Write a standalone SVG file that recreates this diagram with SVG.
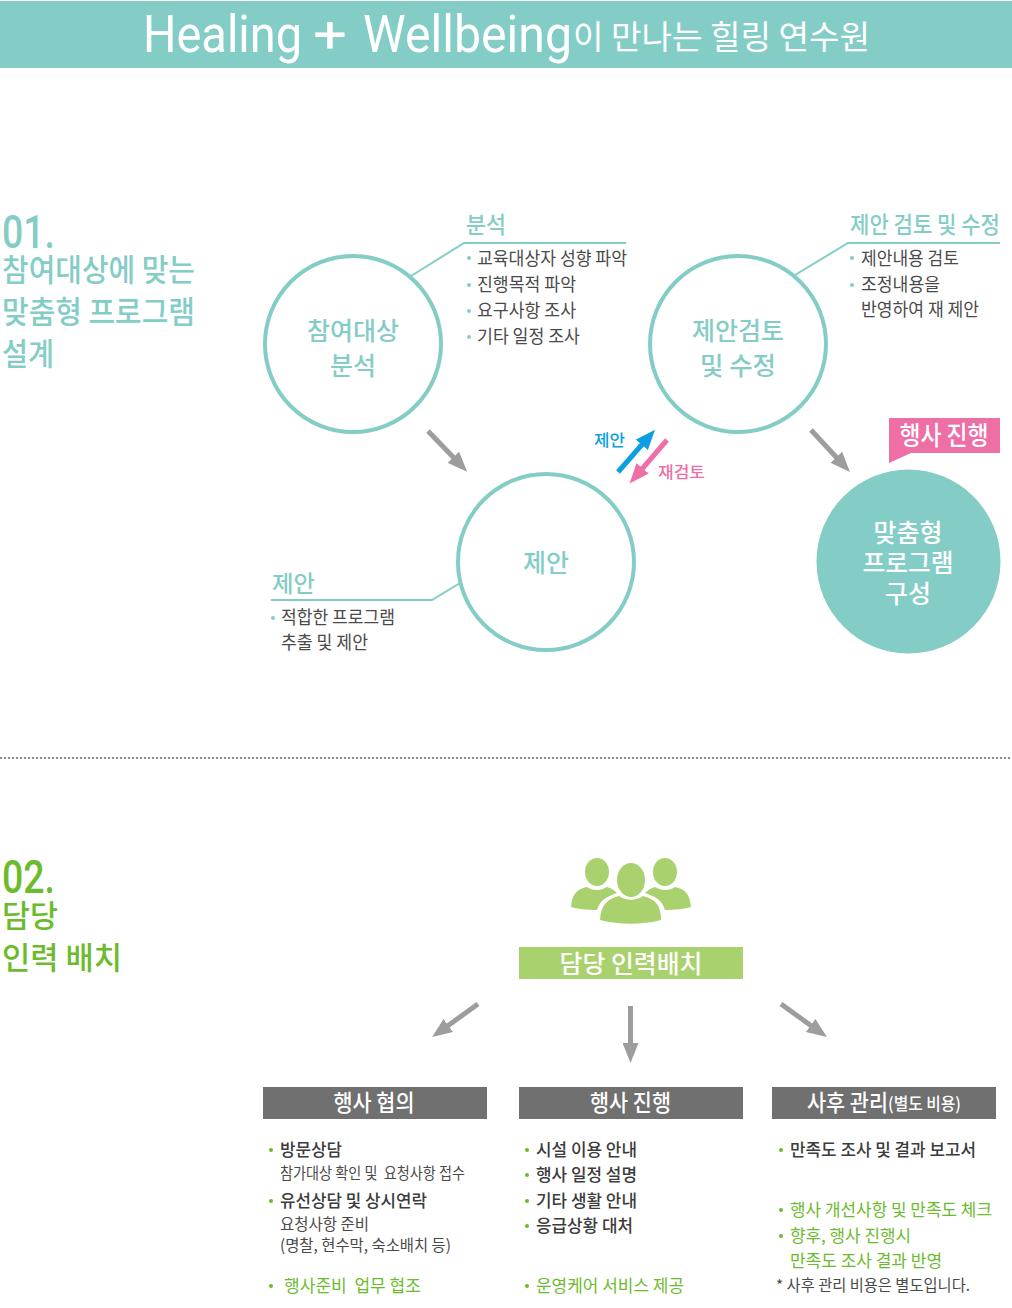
<svg xmlns="http://www.w3.org/2000/svg" width="1012" height="1308" viewBox="0 0 1012 1308">
<style>
text{font-family:"Noto Sans CJK KR","Noto Sans",sans-serif;letter-spacing:0}
.teal{fill:#84cdc7}.wht{fill:#fff}.dark{fill:#4a4a4a}.grn{fill:#6cbb2e}.blk{fill:#3c3c3c;font-weight:500}
.ring{fill:#fff;stroke:#84cdc7;stroke-width:4}
.lead{fill:none;stroke:#84cdc7;stroke-width:2}
.arr{stroke:#9d9d9d;stroke-width:5;fill:none}
.dot{fill:#84cdc7}.gdot{fill:#6cbb2e}
.ctr{text-anchor:middle}
.m{font-weight:500}
.latin{font-family:"Roboto",sans-serif}
</style>
<defs>
<marker id="ag" markerUnits="userSpaceOnUse" markerWidth="22" markerHeight="16" refX="1" refY="8" orient="auto"><path d="M0 0L20 8L0 16Z" fill="#9d9d9d"/></marker>
<marker id="ab" markerUnits="userSpaceOnUse" markerWidth="22" markerHeight="16" refX="1" refY="8" orient="auto"><path d="M0 0L20 8L0 16Z" fill="#0c9fe4"/></marker>
<marker id="ap" markerUnits="userSpaceOnUse" markerWidth="22" markerHeight="16" refX="1" refY="8" orient="auto"><path d="M0 0L20 8L0 16Z" fill="#ee6fa6"/></marker>
</defs>

<g id="header">
<rect x="0" y="1" width="1012" height="67" fill="#84cdc7"/>
<text x="143" y="52" class="wht latin" font-size="52" textLength="159" lengthAdjust="spacingAndGlyphs">Healing</text>
<text x="313" y="52" class="wht latin" font-size="52" textLength="34" lengthAdjust="spacingAndGlyphs">+</text>
<text x="363" y="52" class="wht latin" font-size="52" textLength="209" lengthAdjust="spacingAndGlyphs">Wellbeing</text>
<text x="573" y="49" class="wht" font-size="33" textLength="297" lengthAdjust="spacingAndGlyphs">이 만나는 힐링 연수원</text>
</g>

<g id="section-01-title">
<text x="2" y="248" class="teal latin" font-size="46" font-weight="500" textLength="53" lengthAdjust="spacingAndGlyphs">01.</text>
<text x="2" y="281" class="teal m" font-size="31" textLength="193" lengthAdjust="spacingAndGlyphs">참여대상에 맞는</text>
<text x="2" y="323" class="teal m" font-size="31" textLength="193" lengthAdjust="spacingAndGlyphs">맞춤형 프로그램</text>
<text x="2" y="365" class="teal m" font-size="31" textLength="52" lengthAdjust="spacingAndGlyphs">설계</text>
</g>

<g id="connectors">
<path class="lead" d="M411 276L464 243H626"/>
<path class="lead" d="M795 275L848 243H1000"/>
<path class="lead" d="M271 600H432L460 583"/>
<path class="arr" marker-end="url(#ag)" d="M428 431L454 458"/>
<path class="arr" marker-end="url(#ag)" d="M811 430L837 458"/>
<path d="M618 472L642.500 444" stroke="#0c9fe4" stroke-width="5" fill="none" marker-end="url(#ab)"/>
<path d="M667 440L642 469" stroke="#ee6fa6" stroke-width="5" fill="none" marker-end="url(#ap)"/>
<path class="arr" marker-end="url(#ag)" d="M478 1004L447.500 1026"/>
<path class="arr" marker-end="url(#ag)" d="M630.500 1006V1044"/>
<path class="arr" marker-end="url(#ag)" d="M781 1004L811.500 1026"/>
</g>

<g id="node-analysis">
<circle class="ring" cx="353" cy="344" r="88"/>
<text x="353" y="340" class="teal ctr m" font-size="25" textLength="92" lengthAdjust="spacingAndGlyphs">참여대상</text>
<text x="353" y="375" class="teal ctr m" font-size="25" textLength="46" lengthAdjust="spacingAndGlyphs">분석</text>
</g>
<g id="note-analysis">
<text x="466" y="233" class="teal m" font-size="23" textLength="40" lengthAdjust="spacingAndGlyphs">분석</text>
<circle class="dot" cx="469" cy="258" r="2"/><text x="477" y="265" class="dark" font-size="18" textLength="150" lengthAdjust="spacingAndGlyphs">교육대상자 성향 파악</text>
<circle class="dot" cx="469" cy="285" r="2"/><text x="477" y="291" class="dark" font-size="18" textLength="99" lengthAdjust="spacingAndGlyphs">진행목적 파악</text>
<circle class="dot" cx="469" cy="311" r="2"/><text x="477" y="317" class="dark" font-size="18" textLength="99" lengthAdjust="spacingAndGlyphs">요구사항 조사</text>
<circle class="dot" cx="469" cy="337" r="2"/><text x="477" y="343" class="dark" font-size="18" textLength="103" lengthAdjust="spacingAndGlyphs">기타 일정 조사</text>
</g>

<g id="node-review">
<circle class="ring" cx="738" cy="344" r="88"/>
<text x="738" y="340" class="teal ctr m" font-size="25" textLength="92" lengthAdjust="spacingAndGlyphs">제안검토</text>
<text x="738" y="375" class="teal ctr m" font-size="25" textLength="76" lengthAdjust="spacingAndGlyphs">및 수정</text>
</g>
<g id="note-review">
<text x="850" y="233" class="teal m" font-size="23" textLength="150" lengthAdjust="spacingAndGlyphs">제안 검토 및 수정</text>
<circle class="dot" cx="852" cy="258" r="2"/><text x="861" y="265" class="dark" font-size="18" textLength="98" lengthAdjust="spacingAndGlyphs">제안내용 검토</text>
<circle class="dot" cx="852" cy="285" r="2"/><text x="861" y="291" class="dark" font-size="18" textLength="79" lengthAdjust="spacingAndGlyphs">조정내용을</text>
<text x="861" y="316" class="dark" font-size="18" textLength="118" lengthAdjust="spacingAndGlyphs">반영하여 재 제안</text>
</g>

<g id="node-proposal">
<circle class="ring" cx="546" cy="562" r="88"/>
<text x="546" y="572" class="teal ctr m" font-size="25" textLength="46" lengthAdjust="spacingAndGlyphs">제안</text>
</g>
<g id="note-proposal">
<text x="272" y="592" class="teal m" font-size="23" textLength="43" lengthAdjust="spacingAndGlyphs">제안</text>
<circle class="dot" cx="273" cy="618" r="2"/><text x="281" y="624" class="dark" font-size="18" textLength="114" lengthAdjust="spacingAndGlyphs">적합한 프로그램</text>
<text x="281" y="649" class="dark" font-size="18" textLength="87" lengthAdjust="spacingAndGlyphs">추출 및 제안</text>
</g>

<g id="label-propose"><text x="594" y="446" font-size="16" font-weight="500" fill="#0c9fe4" textLength="31" lengthAdjust="spacingAndGlyphs">제안</text></g>
<g id="label-recheck"><text x="658" y="478" font-size="16" font-weight="500" fill="#ee6fa6" textLength="47" lengthAdjust="spacingAndGlyphs">재검토</text></g>

<g id="callout-event">
<path d="M889 418H1000V453H911L889 463Z" fill="#ee6fa6"/>
<text x="944" y="445" class="wht ctr m" font-size="26" textLength="89" lengthAdjust="spacingAndGlyphs">행사 진행</text>
</g>
<g id="node-program">
<circle cx="908.500" cy="561.500" r="92" fill="#84cdc7"/>
<text x="908" y="542" class="wht ctr m" font-size="25" textLength="69" lengthAdjust="spacingAndGlyphs">맞춤형</text>
<text x="908" y="572" class="wht ctr m" font-size="25" textLength="91" lengthAdjust="spacingAndGlyphs">프로그램</text>
<text x="908" y="603" class="wht ctr m" font-size="25" textLength="46" lengthAdjust="spacingAndGlyphs">구성</text>
</g>

<path id="divider" d="M0 758H1012" stroke="#8a8a8a" stroke-width="2" stroke-dasharray="2 2"/>

<g id="section-02-title">
<text x="2" y="893" class="grn latin" font-size="46" font-weight="500" textLength="53" lengthAdjust="spacingAndGlyphs">02.</text>
<text x="2" y="927" class="grn m" font-size="31" textLength="56" lengthAdjust="spacingAndGlyphs">담당</text>
<text x="2" y="969" class="grn m" font-size="31" textLength="120" lengthAdjust="spacingAndGlyphs">인력 배치</text>
</g>

<g id="people-icon" fill="#a9d26e">
<ellipse cx="597" cy="872" rx="12" ry="14"/>
<ellipse cx="665" cy="872" rx="12" ry="14"/>
<path d="M571 907C572 893 578 889 587 887C592 891 601 891 607 887C611 888 614 890 617 893C606 897 600 900 597 910C586 910 578 909 571 907Z"/>
<path d="M691 907C690 893 684 889 675 887C670 891 661 891 655 887C651 888 648 890 645 893C656 897 662 900 665 910C676 910 684 909 691 907Z"/>
<ellipse cx="631" cy="880" rx="14" ry="17"/>
<path d="M600 920C601 905 607 899 619 896C626 901 636 901 643 896C655 899 661 905 661 920C642 925 619 925 600 920Z"/>
</g>

<g id="node-staffing">
<rect x="519" y="947" width="224" height="32" fill="#a9d26e"/>
<text x="631" y="973" class="wht ctr m" font-size="25" textLength="143" lengthAdjust="spacingAndGlyphs">담당 인력배치</text>
</g>

<g id="node-consult">
<rect x="263" y="1087" width="224" height="32" fill="#707070"/>
<text x="374" y="1111" class="wht ctr m" font-size="23" textLength="81" lengthAdjust="spacingAndGlyphs">행사 협의</text>
<circle class="gdot" cx="271" cy="1150" r="2"/><text x="280" y="1156" class="blk" font-size="17" textLength="62" lengthAdjust="spacingAndGlyphs">방문상담</text>
<text x="280" y="1179" class="dark" font-size="15.500" textLength="185" lengthAdjust="spacingAndGlyphs" xml:space="preserve">참가대상 확인 및  요청사항 접수</text>
<circle class="gdot" cx="271" cy="1201" r="2"/><text x="280" y="1207" class="blk" font-size="17" textLength="147" lengthAdjust="spacingAndGlyphs">유선상담 및 상시연락</text>
<text x="280" y="1230" class="dark" font-size="16" textLength="89" lengthAdjust="spacingAndGlyphs">요청사항 준비</text>
<text x="280" y="1251" class="dark" font-size="16" textLength="171" lengthAdjust="spacingAndGlyphs">(명찰, 현수막, 숙소배치 등)</text>
<circle class="gdot" cx="271" cy="1286" r="2"/><text x="284" y="1292" class="grn" font-size="17" textLength="137" lengthAdjust="spacingAndGlyphs" xml:space="preserve">행사준비  업무 협조</text>
</g>

<g id="node-progress">
<rect x="519" y="1087" width="224" height="32" fill="#707070"/>
<text x="630.500" y="1111" class="wht ctr m" font-size="23" textLength="81" lengthAdjust="spacingAndGlyphs">행사 진행</text>
<circle class="gdot" cx="527" cy="1150" r="2"/><text x="536" y="1156" class="blk" font-size="17" textLength="101" lengthAdjust="spacingAndGlyphs">시설 이용 안내</text>
<circle class="gdot" cx="527" cy="1175" r="2"/><text x="536" y="1181" class="blk" font-size="17" textLength="101" lengthAdjust="spacingAndGlyphs">행사 일정 설명</text>
<circle class="gdot" cx="527" cy="1201" r="2"/><text x="536" y="1207" class="blk" font-size="17" textLength="101" lengthAdjust="spacingAndGlyphs">기타 생활 안내</text>
<circle class="gdot" cx="527" cy="1226" r="2"/><text x="536" y="1232" class="blk" font-size="17" textLength="97" lengthAdjust="spacingAndGlyphs">응급상황 대처</text>
<circle class="gdot" cx="527" cy="1286" r="2"/><text x="536" y="1292" class="grn" font-size="17" textLength="148" lengthAdjust="spacingAndGlyphs">운영케어 서비스 제공</text>
</g>

<g id="node-followup">
<rect x="772" y="1087" width="224" height="32" fill="#707070"/>
<text x="807" y="1111" class="wht m" font-size="23" textLength="81" lengthAdjust="spacingAndGlyphs">사후 관리</text>
<text x="888" y="1110" class="wht m" font-size="17" textLength="73" lengthAdjust="spacingAndGlyphs">(별도 비용)</text>
<circle class="gdot" cx="781" cy="1150" r="2"/><text x="790" y="1156" class="blk" font-size="17" textLength="186" lengthAdjust="spacingAndGlyphs">만족도 조사 및 결과 보고서</text>
<circle class="gdot" cx="781" cy="1210" r="2"/><text x="790" y="1216" class="grn" font-size="17" textLength="202" lengthAdjust="spacingAndGlyphs">행사 개선사항 및 만족도 체크</text>
<circle class="gdot" cx="781" cy="1236" r="2"/><text x="790" y="1242" class="grn" font-size="17" textLength="121" lengthAdjust="spacingAndGlyphs">향후, 행사 진행시</text>
<text x="790" y="1267" class="grn" font-size="17" textLength="152" lengthAdjust="spacingAndGlyphs">만족도 조사 결과 반영</text>
<text x="776" y="1291" class="dark" font-size="15.500" textLength="194" lengthAdjust="spacingAndGlyphs">* 사후 관리 비용은 별도입니다.</text>
</g>
</svg>
